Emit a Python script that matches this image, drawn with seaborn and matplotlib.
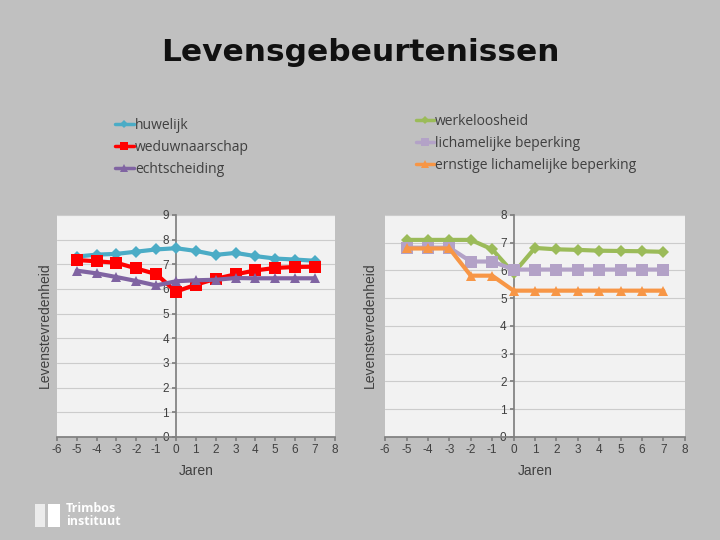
import matplotlib
matplotlib.use("Agg")
import matplotlib.pyplot as plt
from matplotlib.lines import Line2D
from matplotlib.patches import Rectangle
import seaborn as sns
import pandas as pd

sns.set_theme(style="white")
plt.rcParams['font.family'] = ['Liberation Sans', 'DejaVu Sans']
plt.rcParams['axes.unicode_minus'] = False

jaren = [-5, -4, -3, -2, -1, 0, 1, 2, 3, 4, 5, 6, 7]

huwelijk = [7.31, 7.39, 7.42, 7.51, 7.60, 7.65, 7.54, 7.38, 7.46, 7.33, 7.23, 7.19, 7.14]
weduwnaarschap = [7.17, 7.12, 7.06, 6.83, 6.60, 5.89, 6.17, 6.41, 6.59, 6.75, 6.85, 6.89, 6.90]
echtscheiding = [6.74, 6.63, 6.48, 6.32, 6.14, 6.31, 6.35, 6.37, 6.44, 6.43, 6.43, 6.43, 6.43]

werkeloosheid = [7.10, 7.10, 7.10, 7.10, 6.76, 5.90, 6.81, 6.76, 6.74, 6.71, 6.70, 6.69, 6.67]
lichamelijke = [6.82, 6.82, 6.82, 6.32, 6.32, 6.03, 6.03, 6.03, 6.03, 6.03, 6.03, 6.03, 6.03]
ernstige = [6.79, 6.79, 6.79, 5.81, 5.81, 5.27, 5.27, 5.27, 5.27, 5.27, 5.27, 5.27, 5.27]

left_series = [
    ("huwelijk", huwelijk, "#4bacc6", "D", 6),
    ("weduwnaarschap", weduwnaarschap, "#ff0000", "s", 8),
    ("echtscheiding", echtscheiding, "#8064a2", "^", 7.5),
]
right_series = [
    ("werkeloosheid", werkeloosheid, "#9bbb59", "D", 6),
    ("lichamelijke beperking", lichamelijke, "#b3a2c7", "s", 8),
    ("ernstige lichamelijke beperking", ernstige, "#f79646", "^", 7.5),
]

BG = "#c0c0c0"
fig = plt.figure(figsize=(7.2, 5.4), dpi=100, facecolor=BG)

ax1 = fig.add_axes([0.079, 0.191, 0.386, 0.411])
ax2 = fig.add_axes([0.535, 0.191, 0.416, 0.411])


def style_axis(ax, series, ymax):
    ax.set_facecolor("#f2f2f2")
    for name, vals, col, mk, ms in series:
        df = pd.DataFrame({"Jaren": jaren, "v": vals})
        sns.lineplot(data=df, x="Jaren", y="v", ax=ax, color=col, marker=mk,
                     markersize=ms, markeredgewidth=0, linewidth=3, zorder=3)
    ax.set_xlim(-6, 8)
    ax.set_ylim(0, ymax)
    ax.set_xticks(range(-6, 9))
    ax.set_yticks(range(0, ymax + 1))
    for s in ["top", "right"]:
        ax.spines[s].set_visible(False)
    ax.spines["left"].set_position(("data", 0))
    ax.spines["left"].set_color("#808080")
    ax.spines["bottom"].set_color("#808080")
    ax.yaxis.grid(True, color="#cccccc", linewidth=0.8)
    ax.set_axisbelow(True)
    ax.tick_params(axis="both", which="both", direction="out", length=3,
                   color="#808080", labelsize=8.5, labelcolor="#404040",
                   left=True, bottom=True, pad=2)
    ax.set_xlabel("Jaren", fontsize=10, color="#404040", labelpad=6)
    ax.set_ylabel("")


style_axis(ax1, left_series, 9)
style_axis(ax2, right_series, 8)

fig.text(0.062, 0.397, "Levenstevredenheid", rotation=90, ha="center", va="center",
         fontsize=10, color="#404040")
fig.text(0.514, 0.397, "Levenstevredenheid", rotation=90, ha="center", va="center",
         fontsize=10, color="#404040")

fig.text(0.5, 0.903, "Levensgebeurtenissen", ha="center", va="center",
         fontsize=22.5, fontweight="bold", family="DejaVu Sans", color="#111111")


def make_handles(series):
    return [Line2D([0], [0], color=c, marker=m, markersize=ms * 0.75, markeredgewidth=0,
                   linewidth=2.5, label=n) for n, v, c, m, ms in series]


leg1 = fig.legend(handles=make_handles(left_series), loc="upper left",
                  bbox_to_anchor=(0.143, 0.805), frameon=False,
                  handlelength=1.3, handletextpad=0.1, labelspacing=0.5,
                  prop={"family": "Open Sans", "size": 10})
leg2 = fig.legend(handles=make_handles(right_series), loc="upper left",
                  bbox_to_anchor=(0.56, 0.812), frameon=False,
                  handlelength=1.3, handletextpad=0.1, labelspacing=0.5,
                  prop={"family": "Open Sans", "size": 10})
for leg in (leg1, leg2):
    for t in leg.get_texts():
        t.set_color("#404040")

# logo
fig.patches.append(Rectangle((0.048, 0.025), 0.014, 0.042, transform=fig.transFigure,
                             facecolor="white", alpha=0.7, edgecolor="none"))
fig.patches.append(Rectangle((0.067, 0.025), 0.017, 0.042, transform=fig.transFigure,
                             facecolor="white", edgecolor="none"))
fig.text(0.092, 0.046, "Trimbos\ninstituut", ha="left", va="center", fontsize=9,
         fontweight="bold", color="white", linespacing=0.95, family="Open Sans")

fig.savefig("out.png", dpi=100, facecolor=BG)
